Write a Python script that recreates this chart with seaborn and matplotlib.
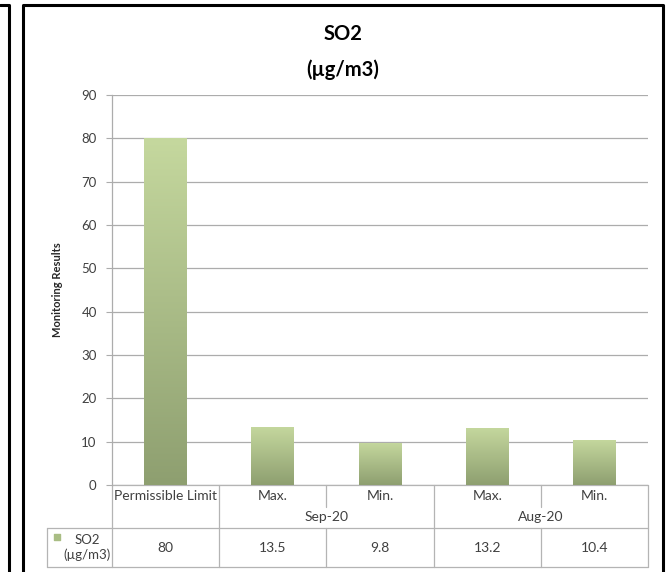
import matplotlib.pyplot as plt
import seaborn as sns
import numpy as np
import pandas as pd
from matplotlib.lines import Line2D
from matplotlib.colors import LinearSegmentedColormap

# data
categories = ["Permissible Limit", "Max.", "Min.", "Max.", "Min."]
groups = ["", "Sep-20", "Sep-20", "Aug-20", "Aug-20"]
values = [80, 13.5, 9.8, 13.2, 10.4]
value_labels = ["80", "13.5", "9.8", "13.2", "10.4"]
yticks = [0, 10, 20, 30, 40, 50, 60, 70, 80, 90]
series_name = "SO2\n(µg/m3)"

sns.set_style("white")
plt.rcParams['font.family'] = ['Lato', 'DejaVu Sans']

W, H = 668, 572
fig = plt.figure(figsize=(W / 100, H / 100), dpi=100)
ax = fig.add_axes([112 / W, 1 - 485 / H, (648 - 112) / W, (485 - 95) / H])

keys = [f"{g} {c}".strip() for g, c in zip(groups, categories)]
df = pd.DataFrame({"key": keys, "value": values})
sns.barplot(data=df, x="key", y="value", color="#b5c98e", width=0.4, ax=ax)

# vertical gradient on each bar
cmap = LinearSegmentedColormap.from_list("grn", ["#8e9f70", "#c5d89e"])
grad = np.linspace(0, 1, 256).reshape(-1, 1)
for p in ax.patches:
    x0, y0 = p.get_x(), p.get_y()
    w, h = p.get_width(), p.get_height()
    im = ax.imshow(grad, cmap=cmap, origin="lower", aspect="auto",
                   extent=[x0, x0 + w, y0, y0 + h], zorder=3)
    im.set_clip_path(p)
    p.set_facecolor("none")
    p.set_edgecolor("none")

ax.set_xlim(-0.5, len(values) - 0.5)
ax.set_ylim(0, 90)
ax.set_yticks(yticks)
ax.set_xticks([])
ax.set_xlabel("")
ax.set_ylabel("Monitoring Results", fontsize=8, fontweight="bold", labelpad=13)
ax.yaxis.grid(True, color="#acacac", linewidth=0.9)
ax.set_axisbelow(True)
ax.tick_params(axis="y", left=True, length=4, width=0.8, color="#acacac",
               labelsize=9.5, labelcolor="#404040", pad=7)
for s in ["top", "right", "bottom"]:
    ax.spines[s].set_visible(False)
ax.spines["left"].set_color("#acacac")
ax.spines["left"].set_linewidth(0.9)

# data table under the axis
tr = ax.get_xaxis_transform()
lc = "#b4b4b4"
y_top, y_mid, y_row, y_bot = 0.0, -0.056, -0.110, -0.210
n = len(values)
leg_x = (47 - 112) / 536

def hline(x0, x1, y):
    ax.add_line(Line2D([x0, x1], [y, y], transform=tr, color=lc, lw=0.9, clip_on=False))

def vline(x, y0, y1):
    ax.add_line(Line2D([x, x], [y0, y1], transform=tr, color=lc, lw=0.9, clip_on=False))

hline(-0.5, n - 0.5, y_top)
vline(-0.5, y_top, y_row)
vline(n - 0.5, y_top, y_bot)
for i in range(1, n):
    if groups[i] == groups[i - 1]:
        vline(i - 0.5, y_top, y_mid)
    else:
        vline(i - 0.5, y_top, y_row)
    vline(i - 0.5, y_row, y_bot)

axtr = ax.transAxes
ax.add_line(Line2D([leg_x, 1], [y_row, y_row], transform=axtr, color=lc, lw=0.9, clip_on=False))
ax.add_line(Line2D([leg_x, 1], [y_bot, y_bot], transform=axtr, color=lc, lw=0.9, clip_on=False))
ax.add_line(Line2D([leg_x, leg_x], [y_row, y_bot], transform=axtr, color=lc, lw=0.9, clip_on=False))
ax.add_line(Line2D([0, 0], [y_row, y_bot], transform=axtr, color=lc, lw=0.9, clip_on=False))

txt = dict(fontsize=10, color="#404040", ha="center", va="center", clip_on=False)
for i, c in enumerate(categories):
    ax.text(i, -0.028, c, transform=tr, **txt)
    ax.text(i, -0.162, value_labels[i], transform=tr, **txt)
seen = []
for g in groups:
    if g and g not in seen:
        seen.append(g)
        idx = [i for i, gg in enumerate(groups) if gg == g]
        ax.text(np.mean(idx), -0.082, g, transform=tr, **txt)

# legend key in table
ax.scatter([leg_x + 0.018], [-0.134], transform=axtr, marker="s", s=24,
           color="#a9bd84", clip_on=False)
ax.text(-0.047, -0.16, series_name, transform=axtr, fontsize=9.5, color="#404040",
        ha="center", va="center", linespacing=1.2, clip_on=False)

# title
fig.text(343 / W, 1 - 52 / H, "SO2\n(µg/m3)", ha="center", va="center",
         fontsize=14.5, fontweight="bold", color="black", linespacing=1.9)

# chart frames
fk = dict(color="black", lw=2.2, transform=fig.transFigure)
fig.add_artist(Line2D([22.5 / W, 22.5 / W, 663 / W, 663 / W],
                      [0, 1 - 5 / H, 1 - 5 / H, 0], **fk))
fig.add_artist(Line2D([0, 9 / W, 9 / W], [1 - 5 / H, 1 - 5 / H, 0], **fk))

fig.savefig("out.png", dpi=100)
